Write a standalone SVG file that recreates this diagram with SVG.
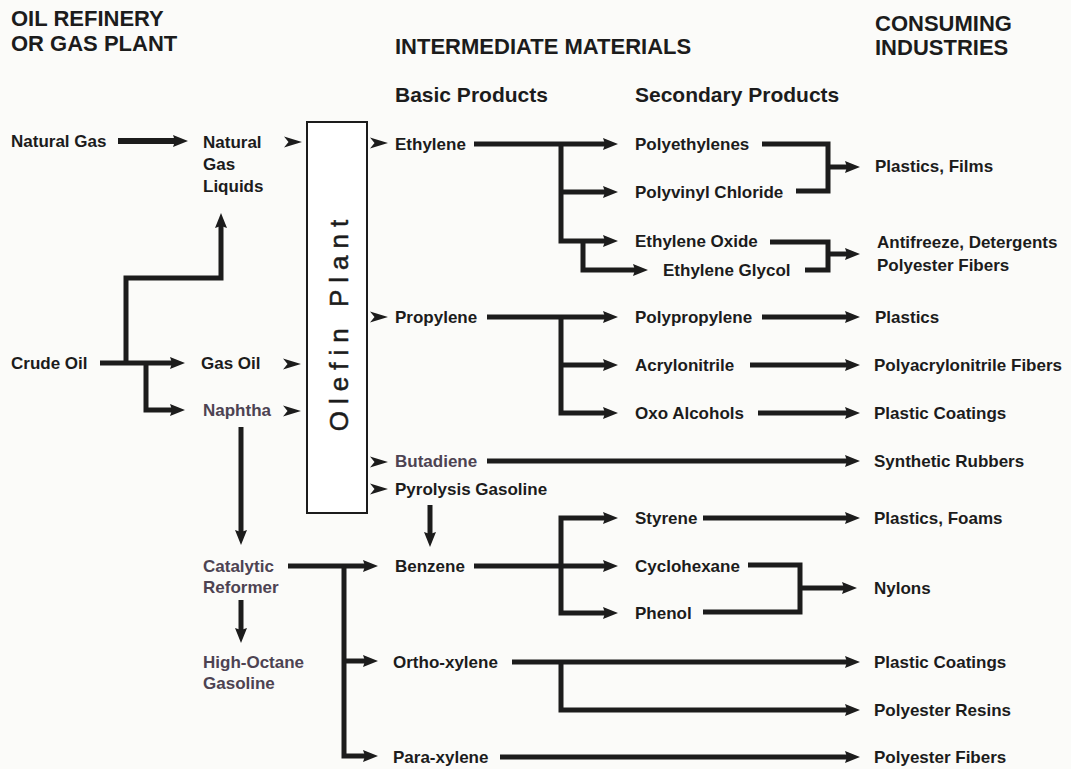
<svg xmlns="http://www.w3.org/2000/svg" xmlns:xlink="http://www.w3.org/1999/xlink" width="1071" height="769" viewBox="0 0 1071 769">
<style>
.t{font-family:"Liberation Sans",Arial,sans-serif;font-weight:bold;font-size:17px;fill:#1c1c1c}
.g{fill:#4d4352}
.h{font-size:22px}
.s{font-size:21px}
.c{fill:none;stroke:#1c1c1c;stroke-width:5;stroke-linejoin:miter}
.a{marker-end:url(#ah)}
.box{fill:#fff;stroke:#1c1c1c;stroke-width:2}
.ol{font-family:"Liberation Sans",Arial,sans-serif;font-size:26px;letter-spacing:7px;fill:#1c1c1c;stroke:#1c1c1c;stroke-width:0.5}
.chev{fill:#1c1c1c}
</style>
<defs>
<marker id="ah" markerUnits="userSpaceOnUse" markerWidth="16" markerHeight="12" refX="5" refY="6" orient="auto" overflow="visible">
<path d="M0,0 L15,6 L0,12 L2,6 Z" fill="#1c1c1c"/>
</marker>
<path id="chev" d="M0,-5.5 L18,0 L0,5.5 L4.5,0 Z"/>
</defs>
<rect width="1071" height="769" fill="#fbfbf9"/>

<g id="headers">
<text class="t h" x="11" y="26">OIL REFINERY</text>
<text class="t h" x="11" y="51">OR GAS PLANT</text>
<text class="t h" x="395" y="54">INTERMEDIATE MATERIALS</text>
<text class="t h" x="875" y="31">CONSUMING</text>
<text class="t h" x="875" y="55">INDUSTRIES</text>
<text class="t s" x="395" y="102">Basic Products</text>
<text class="t s" x="635" y="102">Secondary Products</text>
</g>

<g id="olefin-plant">
<rect class="box" x="307" y="122" width="60" height="391"/>
<text class="ol" transform="translate(348,322) rotate(-90)" text-anchor="middle">Olefin Plant</text>
</g>

<g id="chevrons" class="chev">
<use xlink:href="#chev" x="284" y="142"/>
<use xlink:href="#chev" x="283" y="364"/>
<use xlink:href="#chev" x="283" y="411"/>
<use xlink:href="#chev" x="370" y="143"/>
<use xlink:href="#chev" x="370" y="317"/>
<use xlink:href="#chev" x="370" y="462"/>
<use xlink:href="#chev" x="370" y="489"/>
</g>

<g id="n-natural-gas"><text class="t" x="11" y="147">Natural Gas</text></g>
<g id="n-ngl"><text class="t" x="203" y="148">Natural</text><text class="t" x="203" y="170">Gas</text><text class="t" x="203" y="192">Liquids</text></g>
<g id="n-crude"><text class="t" x="11" y="369">Crude Oil</text></g>
<g id="n-gas-oil"><text class="t" x="201" y="369">Gas Oil</text></g>
<g id="n-naphtha"><text class="t g" x="203" y="416">Naphtha</text></g>
<g id="n-cat-ref"><text class="t g" x="203" y="572">Catalytic</text><text class="t g" x="203" y="593">Reformer</text></g>
<g id="n-hi-oct"><text class="t g" x="203" y="668">High-Octane</text><text class="t g" x="203" y="689">Gasoline</text></g>

<g id="n-ethylene"><text class="t" x="395" y="150">Ethylene</text></g>
<g id="n-propylene"><text class="t" x="395" y="323">Propylene</text></g>
<g id="n-butadiene"><text class="t g" x="395" y="467">Butadiene</text></g>
<g id="n-pyrolysis"><text class="t" x="395" y="495">Pyrolysis Gasoline</text></g>
<g id="n-benzene"><text class="t" x="395" y="572">Benzene</text></g>
<g id="n-ortho"><text class="t" x="393" y="668">Ortho-xylene</text></g>
<g id="n-para"><text class="t" x="393" y="763">Para-xylene</text></g>

<g id="n-polyethylenes"><text class="t" x="635" y="150">Polyethylenes</text></g>
<g id="n-pvc"><text class="t" x="635" y="198">Polyvinyl Chloride</text></g>
<g id="n-eo"><text class="t" x="635" y="247">Ethylene Oxide</text></g>
<g id="n-eg"><text class="t" x="663" y="276">Ethylene Glycol</text></g>
<g id="n-pp"><text class="t" x="635" y="323">Polypropylene</text></g>
<g id="n-acn"><text class="t" x="635" y="371">Acrylonitrile</text></g>
<g id="n-oxo"><text class="t" x="635" y="419">Oxo Alcohols</text></g>
<g id="n-styrene"><text class="t" x="635" y="524">Styrene</text></g>
<g id="n-cyclohexane"><text class="t" x="635" y="572">Cyclohexane</text></g>
<g id="n-phenol"><text class="t" x="635" y="619">Phenol</text></g>

<g id="n-plastics-films"><text class="t" x="875" y="172">Plastics, Films</text></g>
<g id="n-antifreeze"><text class="t" x="877" y="248">Antifreeze, Detergents</text><text class="t" x="877" y="271">Polyester Fibers</text></g>
<g id="n-plastics"><text class="t" x="875" y="323">Plastics</text></g>
<g id="n-pan-fibers"><text class="t" x="874" y="371">Polyacrylonitrile Fibers</text></g>
<g id="n-plastic-coatings-1"><text class="t" x="874" y="419">Plastic Coatings</text></g>
<g id="n-rubbers"><text class="t" x="874" y="467">Synthetic Rubbers</text></g>
<g id="n-plastics-foams"><text class="t" x="874" y="524">Plastics, Foams</text></g>
<g id="n-nylons"><text class="t" x="874" y="594">Nylons</text></g>
<g id="n-plastic-coatings-2"><text class="t" x="874" y="668">Plastic Coatings</text></g>
<g id="n-polyester-resins"><text class="t" x="874" y="716">Polyester Resins</text></g>
<g id="n-polyester-fibers"><text class="t" x="874" y="763">Polyester Fibers</text></g>

<g id="connectors">
<path class="c a" d="M118,141 H178" style="stroke-width:6"/>
<path class="c a" d="M100,363 H175"/>
<path class="c a" d="M126,363 V278 H221 V223"/>
<path class="c a" d="M146,363 V410 H175"/>
<path class="c a" d="M241,427 V535"/>
<path class="c a" d="M241,600 V633"/>
<path class="c a" d="M288,566 H368"/>
<path class="c a" d="M344,566 V756 H368"/>
<path class="c a" d="M344,661 H368"/>

<path class="c a" d="M474,144 H608"/>
<path class="c a" d="M561,144 V241 H608"/>
<path class="c a" d="M561,192 H608"/>
<path class="c a" d="M583,241 V270 H638"/>
<path class="c" d="M762,144 H828 V191 H796"/>
<path class="c a" d="M828,167 H850"/>
<path class="c" d="M770,242 H828 V270 H805"/>
<path class="c a" d="M828,254 H850"/>

<path class="c a" d="M487,317 H608"/>
<path class="c a" d="M561,317 V413 H608"/>
<path class="c a" d="M561,365 H608"/>
<path class="c a" d="M762,317 H850"/>
<path class="c a" d="M750,365 H850"/>
<path class="c a" d="M758,413 H850"/>

<path class="c a" d="M487,461 H850"/>
<path class="c a" d="M430,505 V537"/>

<path class="c a" d="M474,566 H608"/>
<path class="c a" d="M561,566 V613 H608"/>
<path class="c a" d="M561,566 V518 H608"/>
<path class="c a" d="M703,518 H850"/>
<path class="c" d="M748,565 H800 V612 H703"/>
<path class="c a" d="M800,588 H847"/>

<path class="c a" d="M512,662 H850"/>
<path class="c a" d="M561,662 V710 H850"/>
<path class="c a" d="M500,757 H850"/>
</g>
</svg>
